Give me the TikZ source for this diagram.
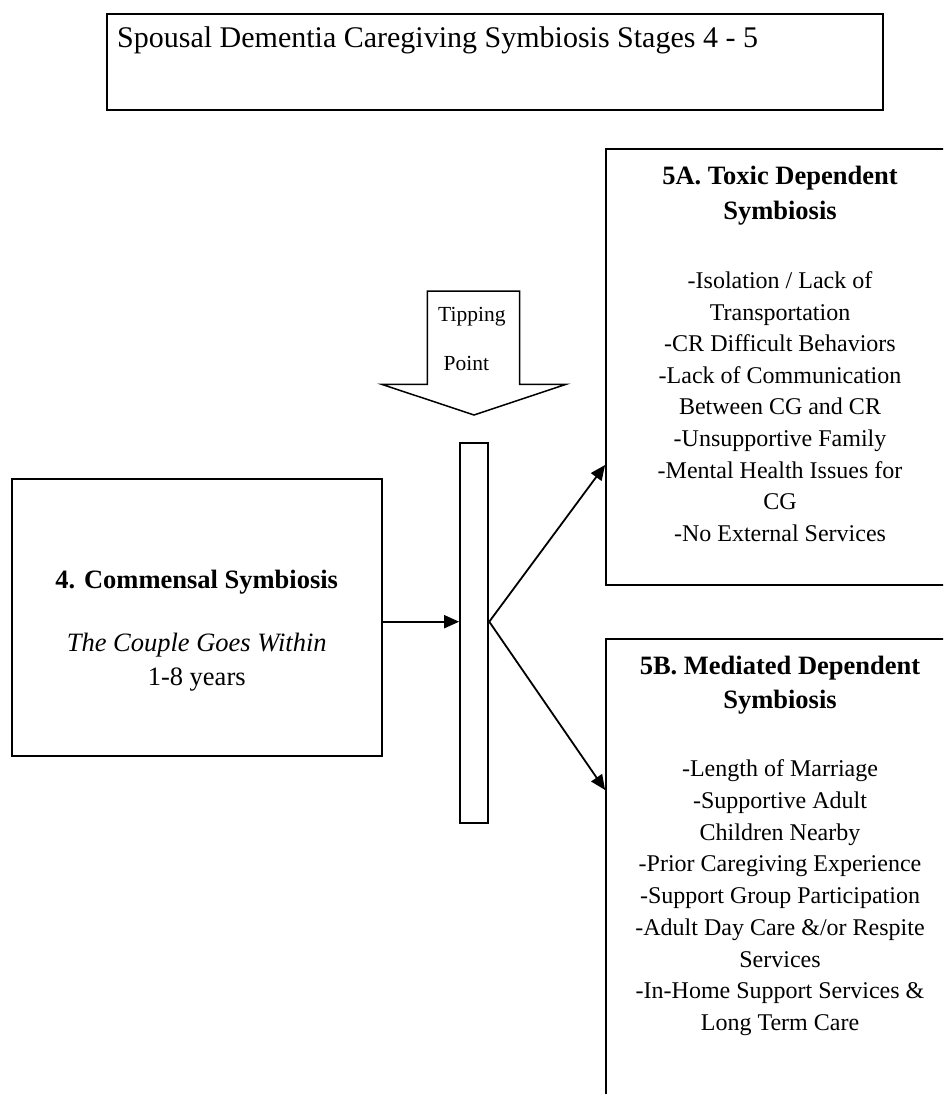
\documentclass[tikz,border=0pt]{standalone}
\usepackage{fontspec}
\setmainfont{Liberation Serif}
\usetikzlibrary{arrows.meta}
\begin{document}
\begin{tikzpicture}[x=1pt,y=-1pt,
  box/.style={draw,line width=1.8pt,rectangle,inner sep=0pt},
  arr/.style={line width=1.8pt,-{Triangle[length=15pt,width=13pt]}},
  body/.style={font=\fontsize{24}{28}\selectfont,anchor=base,inner sep=0pt},
  head/.style={font=\fontsize{26.5}{30}\selectfont\bfseries,anchor=base,inner sep=0pt},
  stage/.style={font=\fontsize{26.5}{30}\selectfont,anchor=base,inner sep=0pt},
  tip/.style={font=\fontsize{21.5}{25}\selectfont,anchor=base west,inner sep=0pt}
]
\useasboundingbox (0,0) rectangle (943,1094);
\clip (0,0) rectangle (943,1094);

% title
\node[box,minimum width=776pt,minimum height=96pt] (title) at (495,62) {};
\node[font=\fontsize{30}{34}\selectfont,anchor=base west,inner sep=0pt] (titletext) at (117,48)
  {Spousal Dementia Caregiving Symbiosis Stages 4 - 5};

% stage 4
\node[box,minimum width=370pt,minimum height=276.7pt] (stage4) at (196.7,617.7) {};
\node[stage,font=\fontsize{26.5}{30}\selectfont\bfseries] (s4a) at (196.7,588) {4. Commensal Symbiosis};
\node[stage,font=\fontsize{26.5}{30}\selectfont\itshape] (s4b) at (196.7,651) {The Couple Goes Within};
\node[stage] (s4c) at (196.7,685) {1-8 years};

% tipping bar
\node[box,minimum width=28.3pt,minimum height=379.4pt] (bar) at (474.2,633) {};

% tipping point arrow
\draw[line width=1.5pt,line join=miter]
  (427.3,291) -- (519.7,291) -- (519.7,384.3) -- (566,384.3) -- (474,415)
  -- (381.7,384.3) -- (427.3,384.3) -- cycle;
\node[tip] (tipa) at (438,321.7) {Tipping};
\node[tip] (tipb) at (443.4,370) {Point};

% stage 5A
\node[box,minimum width=348pt,minimum height=435.7pt] (toxic) at (780,367.2) {};
\node[head] (ha1) at (780,185) {5A. Toxic Dependent};
\node[head] (ha2) at (780,219) {Symbiosis};
\foreach \t [count=\i] in {-Isolation / Lack of, Transportation, -CR Difficult Behaviors,
  -Lack of Communication, Between CG and CR, -Unsupportive Family,
  -Mental Health Issues for, CG, -No External Services}
  \node[body] (la\i) at ({780},{288.5+31.6*(\i-1)}) {\t};

% stage 5B
\node[box,minimum width=348pt,minimum height=480pt] (mediated) at (780,879.3) {};
\node[head] (hb1) at (780,674.3) {5B. Mediated Dependent};
\node[head] (hb2) at (780,708.3) {Symbiosis};
\foreach \t [count=\i] in {-Length of Marriage, -Supportive Adult, Children Nearby,
  -Prior Caregiving Experience, -Support Group Participation,
  -Adult Day Care \&/or Respite, Services, -In-Home Support Services \&, Long Term Care}
  \node[body] (lb\i) at ({780},{776.7+31.75*(\i-1)}) {\t};

% connectors
\coordinate (fork) at (bar.east |- 0,621.7);
\draw[arr] (stage4.east |- fork) -- (bar.west |- fork);
\draw[arr] (fork) -- (toxic.west |- 0,465);
\draw[arr] (fork) -- (mediated.west |- 0,790);
\end{tikzpicture}
\end{document}
